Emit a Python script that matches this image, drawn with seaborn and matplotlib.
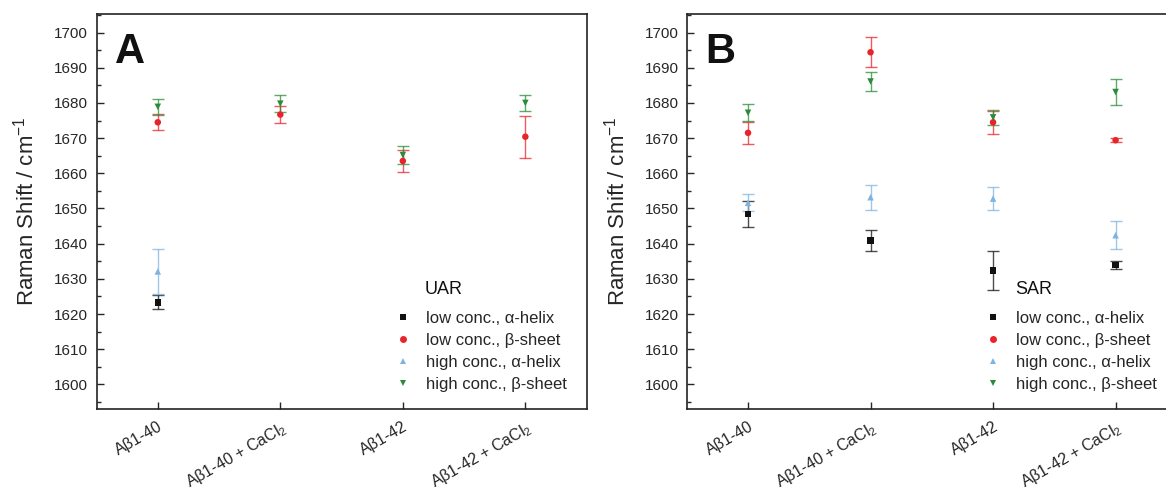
import numpy as np
import pandas as pd
import matplotlib
matplotlib.use("Agg")
import matplotlib.pyplot as plt
import matplotlib.transforms as mtransforms
from matplotlib.lines import Line2D
from matplotlib.ticker import MultipleLocator
import seaborn as sns

categories = ["Aβ1-40", "Aβ1-40 + CaCl$_2$", "Aβ1-42", "Aβ1-42 + CaCl$_2$"]
series_names = ["low conc., α-helix", "low conc., β-sheet",
                "high conc., α-helix", "high conc., β-sheet"]

# Panel A (UAR)
uar_low_alpha = [1623.3, np.nan, np.nan, np.nan]
uar_low_alpha_err = [2.0, np.nan, np.nan, np.nan]
uar_low_beta = [1674.5, 1676.7, 1663.5, 1670.4]
uar_low_beta_err = [2.3, 2.4, 3.1, 6.0]
uar_high_alpha = [1632.1, np.nan, np.nan, np.nan]
uar_high_alpha_err = [6.3, np.nan, np.nan, np.nan]
uar_high_beta = [1678.9, 1679.8, 1665.2, 1680.0]
uar_high_beta_err = [2.2, 2.4, 2.5, 2.2]

# Panel B (SAR)
sar_low_alpha = [1648.4, 1640.9, 1632.3, 1633.9]
sar_low_alpha_err = [3.7, 2.9, 5.5, 1.1]
sar_low_beta = [1671.5, 1694.4, 1674.5, 1669.4]
sar_low_beta_err = [3.1, 4.3, 3.3, 0.5]
sar_high_alpha = [1651.6, 1653.2, 1652.8, 1642.4]
sar_high_alpha_err = [2.4, 3.5, 3.2, 3.9]
sar_high_beta = [1677.2, 1686.1, 1675.9, 1683.1]
sar_high_beta_err = [2.4, 2.7, 2.2, 3.6]

colors = ["#111111", "#e8242a", "#7db4e0", "#2a8c3a"]
markers = ["s", "o", "^", "v"]

sns.set_style("ticks")
plt.rcParams["font.family"] = ["Liberation Sans", "DejaVu Sans"]
plt.rcParams["mathtext.fontset"] = "custom"
plt.rcParams["mathtext.rm"] = "Liberation Sans"
plt.rcParams["mathtext.it"] = "Liberation Sans:italic"

fig = plt.figure(figsize=(11.66, 4.93), dpi=100)
axA = fig.add_axes([0.0828, 0.1704, 0.4203, 0.8006])
axB = fig.add_axes([0.589, 0.1704, 0.4203, 0.8006])

panels = [
    (axA, "A", "UAR",
     [uar_low_alpha, uar_low_beta, uar_high_alpha, uar_high_beta],
     [uar_low_alpha_err, uar_low_beta_err, uar_high_alpha_err, uar_high_beta_err]),
    (axB, "B", "SAR",
     [sar_low_alpha, sar_low_beta, sar_high_alpha, sar_high_beta],
     [sar_low_alpha_err, sar_low_beta_err, sar_high_alpha_err, sar_high_beta_err]),
]

x = np.arange(len(categories))
offset = mtransforms.ScaledTranslation(8 / 100, 0, fig.dpi_scale_trans)
for ax, letter, title, vals, errs in panels:
    rows = []
    for name, v, e in zip(series_names, vals, errs):
        for i, (vv, ee) in enumerate(zip(v, e)):
            rows.append({"x": i, "y": vv, "err": ee, "series": name})
    df = pd.DataFrame(rows).dropna()
    for k, name in enumerate(series_names):
        d = df[df.series == name]
        ax.errorbar(d["x"], d["y"], yerr=d["err"], fmt="none",
                    ecolor=colors[k], alpha=0.75, elinewidth=1.0,
                    capsize=4, capthick=1.0, zorder=2)
    sns.scatterplot(data=df, x="x", y="y", hue="series", style="series",
                    hue_order=series_names, style_order=series_names,
                    palette=colors, markers=dict(zip(series_names, markers)),
                    s=22, edgecolor="none", linewidth=0, legend=False,
                    ax=ax, zorder=3)
    ax.set_xlim(-0.5, 3.5)
    ax.set_ylim(1593, 1705.2)
    ax.set_xticks(x)
    ax.set_xticklabels(categories, rotation=30, ha="right",
                       rotation_mode="anchor", fontsize=11.5)
    for lbl in ax.get_xticklabels():
        lbl.set_transform(lbl.get_transform() + offset)
    ax.yaxis.set_major_locator(MultipleLocator(10))
    ax.yaxis.set_minor_locator(MultipleLocator(5))
    ax.tick_params(axis="y", which="major", direction="in", length=5,
                   width=1, labelsize=11, pad=6)
    ax.tick_params(axis="y", which="minor", direction="in", length=3, width=1)
    ax.tick_params(axis="x", which="major", direction="in", length=5,
                   width=1, pad=7)
    for sp in ax.spines.values():
        sp.set_linewidth(1.2)
        sp.set_color("#222222")
    ax.set_xlabel("")
    ax.set_ylabel("Raman Shift / cm$^{-1}$", fontsize=16, labelpad=11)
    ax.text(0.038, 0.955, letter, transform=ax.transAxes, fontsize=30,
            fontweight="bold", va="top", ha="left", color="#111111")
    handles = [Line2D([], [], linestyle="none", marker=m, color=c,
                      markersize=5, markeredgewidth=0)
               for m, c in zip(markers, colors)]
    ax.legend(handles, series_names, loc="lower right",
              bbox_to_anchor=(0.984, 0.014),
              frameon=False, fontsize=12,
              handletextpad=0.8, labelspacing=0.42, handlelength=1.2,
              borderaxespad=0.3)
    ax.text(0.670, 0.3015, title, transform=ax.transAxes, fontsize=13,
            va="center", ha="left", color="#111111")

fig.savefig("out.png", dpi=100)
